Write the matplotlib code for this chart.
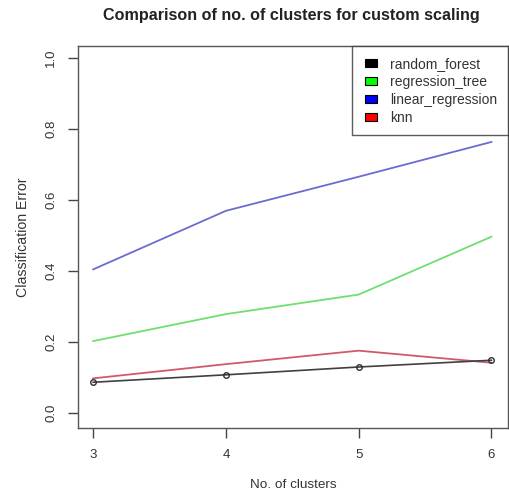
import matplotlib
matplotlib.use("Agg")
import matplotlib.pyplot as plt
from matplotlib.patches import Patch, Rectangle
from matplotlib.legend_handler import HandlerPatch

plt.rcParams['font.family'] = ['Liberation Sans', 'DejaVu Sans']

clusters = [3, 4, 5, 6]
random_forest = [0.087, 0.108, 0.130, 0.149]
regression_tree = [0.203, 0.279, 0.334, 0.497]
linear_regression = [0.405, 0.570, 0.666, 0.764]
knn = [0.098, 0.138, 0.176, 0.142]
series_names = ["random_forest", "regression_tree", "linear_regression", "knn"]
legend_colors = ["black", "#00ff00", "#0000ff", "#ff0000"]
yticks = [0.0, 0.2, 0.4, 0.6, 0.8, 1.0]

fig = plt.figure(figsize=(5.09, 4.96), dpi=100)
ax = fig.add_axes([0.153, 0.137, 0.845, 0.770])

ax.plot(clusters, linear_regression, color="#6b6bd0", lw=1.3)
ax.plot(clusters, regression_tree, color="#6ee06e", lw=1.3)
ax.plot(clusters, knn, color="#d05a6a", lw=1.3)
ax.plot(clusters, random_forest, color="#404040", lw=1.2, marker="o",
        markersize=4, markerfacecolor="none", markeredgecolor="#303030", markeredgewidth=1.0)

ax.set_xlim(2.885, 6.125)
ax.set_ylim(-0.042, 1.034)
ax.set_xticks(clusters)
ax.set_xticklabels([str(c) for c in clusters])
ax.set_yticks(yticks)
ax.set_yticklabels([f"{v:.1f}" for v in yticks], rotation=90, va="center")
ax.tick_params(axis="both", length=7, width=1, colors="#444444", labelcolor="#333333",
               labelsize=9.5, pad=8, direction="out")
for s in ax.spines.values():
    s.set_color("#555555")
    s.set_linewidth(1.0)

ax.set_xlabel("No. of clusters", fontsize=9.7, color="#333333", labelpad=13)
ax.set_ylabel("Classification Error", fontsize=10.2, color="#333333", labelpad=11)
fig.text(0.573, 0.968, "Comparison of no. of clusters for custom scaling",
         ha="center", va="center", fontsize=11.6, fontweight="bold", color="#222222")


def square_right(legend, orig_handle, xdescent, ydescent, width, height, fontsize):
    w = 8.6
    h = 5.8
    return Rectangle((width - w - xdescent, (height - h) / 2 - ydescent), w, h)


handles = [Patch(facecolor=c, edgecolor="black", lw=0.8) for c in legend_colors]
leg = ax.legend(handles, series_names, loc="upper right", bbox_to_anchor=(1.0, 1.0),
                borderaxespad=0.0, fancybox=False, frameon=True, fontsize=10,
                handlelength=1.05, handleheight=0.6, handletextpad=1.0,
                labelspacing=0.3, borderpad=0.75, labelcolor="#333333",
                handler_map={Patch: HandlerPatch(patch_func=square_right)})
leg.get_frame().set_edgecolor("#333333")
leg.get_frame().set_linewidth(1.0)

fig.savefig("out.png", dpi=100)
